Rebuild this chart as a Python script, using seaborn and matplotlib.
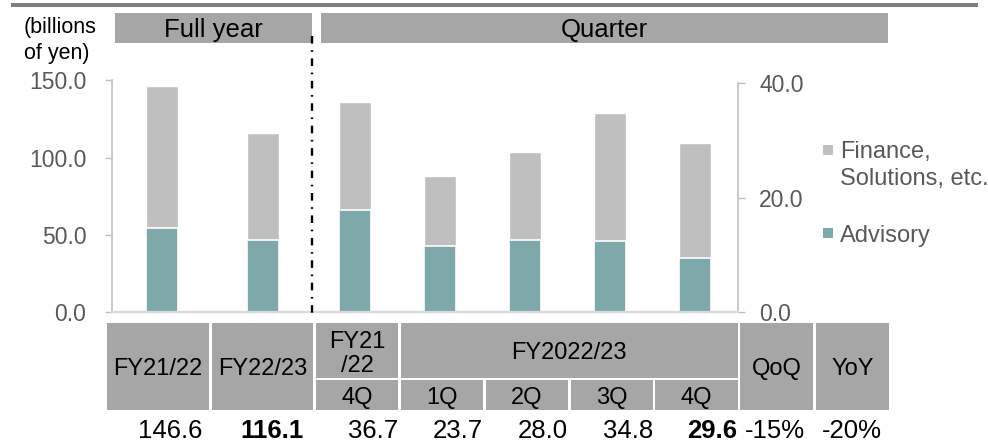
import matplotlib
matplotlib.use("Agg")
import matplotlib.pyplot as plt
from matplotlib.patches import Rectangle
from matplotlib.lines import Line2D
import seaborn as sns
import pandas as pd

# ---- data (billions of yen) ----
year_labels = ["FY21/22", "FY22/23"]
year_total = [146.6, 116.1]
year_advisory = [54.7, 46.6]

quarter_labels = ["FY21/22 4Q", "1Q", "2Q", "3Q", "4Q"]
quarter_total = [36.7, 23.7, 28.0, 34.8, 29.6]
quarter_advisory = [17.9, 11.6, 12.6, 12.5, 9.5]

change_labels = ["QoQ", "YoY"]
change_values = ["-15%", "-20%"]

series_names = ["Finance,\nSolutions, etc.", "Advisory"]

GREY = "#bfbfbf"
TEAL = "#7fa8ab"
HEAD = "#a6a6a6"
TICK = "#595959"

sns.set_style("white")
plt.rcParams["font.family"] = ["Liberation Sans", "DejaVu Sans"]

W, H = 988, 441
fig = plt.figure(figsize=(W / 100, H / 100), dpi=100)


def fx(x):
    return x / W


def fy(y):
    return 1 - y / H


year_df = pd.DataFrame({"period": year_labels, "total": year_total,
                        "advisory": year_advisory})
quarter_df = pd.DataFrame({"period": quarter_labels, "total": quarter_total,
                           "advisory": quarter_advisory})

y0, y1 = 312.3, 80.0
ax_y = fig.add_axes([fx(112), fy(y0), (312.75 - 112) / W, (y0 - y1) / H])
ax_q = fig.add_axes([fx(312.75), fy(y0), (737.7 - 312.75) / W, (y0 - y1) / H])

for ax, df, width in ((ax_y, year_df, 0.32), (ax_q, quarter_df, 0.38)):
    sns.barplot(data=df, x="period", y="total", color=GREY, width=width,
                saturation=1, errorbar=None, edgecolor="white", linewidth=1,
                ax=ax)
    sns.barplot(data=df, x="period", y="advisory", color=TEAL, width=width,
                saturation=1, errorbar=None, edgecolor="white", linewidth=1.2,
                ax=ax)
    ax.set_xlabel("")
    ax.set_ylabel("")
    ax.set_xticks([])
    ax.set_xlim(-0.5, len(df) - 0.5)
    ax.patch.set_alpha(0)
    ax.spines["top"].set_visible(False)
    ax.spines["bottom"].set_color("#d9d9d9")
    ax.spines["bottom"].set_linewidth(1.6)

# left axis: full year
ax_y.set_ylim(0, 150 * (y0 - y1) / (y0 - 80.4))
ax_y.set_yticks([0, 50, 100, 150])
ax_y.set_yticklabels([f"{v:.1f}" for v in [0, 50, 100, 150]])
ax_y.spines["right"].set_visible(False)
ax_y.spines["left"].set_color(GREY)
ax_y.spines["left"].set_linewidth(1.2)
ax_y.spines["left"].set_bounds(0, 150)
ax_y.tick_params(axis="y", left=True, length=5, width=1, color=GREY,
                 labelsize=16.5, labelcolor=TICK, pad=13.5)

# right axis: quarters
ax_q.set_ylim(0, 40 * (y0 - y1) / (y0 - 83.0))
ax_q.set_yticks([0, 20, 40])
ax_q.set_yticklabels([f"{v:.1f}" for v in [0, 20, 40]])
ax_q.spines["left"].set_visible(False)
ax_q.spines["right"].set_color(GREY)
ax_q.spines["right"].set_linewidth(1.2)
ax_q.spines["right"].set_bounds(0, 40)
ax_q.yaxis.tick_right()
ax_q.tick_params(axis="y", right=True, left=False, length=5, width=1,
                 color=GREY, labelsize=16.5, labelcolor=TICK, pad=10.5)

# top rule
fig.add_artist(Line2D([fx(11), fx(978)], [fy(5.3), fy(5.3)], color="#808080",
                      lw=2.9, solid_capstyle="butt"))


def cell(x0, ya, x1, yb, text="", size=17, color=HEAD, linespacing=1.15):
    fig.add_artist(Rectangle((fx(x0), fy(yb)), (x1 - x0) / W, (yb - ya) / H,
                             facecolor=color, edgecolor="none",
                             transform=fig.transFigure))
    if text:
        fig.text(fx((x0 + x1) / 2), fy((ya + yb) / 2), text, ha="center",
                 va="center_baseline", fontsize=size, color="black",
                 linespacing=linespacing)


# section headers
cell(115, 13.3, 312, 42.7, "Full year", size=18.5)
cell(321, 13.3, 888, 42.7, "Quarter", size=18.5)

# separator between full-year and quarterly bars
fig.add_artist(Line2D([fx(311.5), fx(311.5)], [fy(36), fy(314)], color="black",
                      lw=1.7, linestyle=(0, (3.2, 2.8, 0.7, 2.8))))

# unit label
fig.text(fx(24), fy(40.5), "(billions\nof yen)", ha="left", va="center",
         fontsize=15.5, color="black", linespacing=1.25)

# category table
top, mid_a, mid_b, bot = 322.7, 377.7, 380.3, 410.0
cell(106.7, top, 209.0, bot, year_labels[0])
cell(211.7, top, 313.3, bot, year_labels[1])
cell(316.0, top, 398.3, mid_a, "FY21\n/22")
cell(316.0, mid_b, 398.3, bot, quarter_labels[0].split()[-1])
cell(401.0, top, 737.7, mid_a, "FY2022/23")
q_cells = [(401.0, 483.3), (486.0, 567.7), (570.7, 652.7), (655.3, 737.7)]
for (a, b), lab in zip(q_cells, quarter_labels[1:]):
    cell(a, mid_b, b, bot, lab)
cell(740.0, top, 813.3, bot, change_labels[0])
cell(815.7, top, 889.3, bot, change_labels[1])

# value row
value_right = [202, 304, 398, 483, 568, 653, 737.5]
values = year_total + quarter_total
bold = {1, 6}
for i, (xr, v) in enumerate(zip(value_right, values)):
    fig.text(fx(xr), fy(428), f"{v:.1f}", ha="right", va="center_baseline",
             fontsize=18.5, color="black",
             fontweight="bold" if i in bold else "normal")
for xr, s in zip([805, 881.7], change_values):
    fig.text(fx(xr), fy(428), s, ha="right", va="center_baseline",
             fontsize=18.5, color="black")

# legend
for yc, col, lab in ((150, GREY, series_names[0]), (233.3, TEAL, series_names[1])):
    fig.add_artist(Rectangle((fx(823), fy(yc + 5)), 10 / W, 10 / H,
                             facecolor=col, edgecolor="none",
                             transform=fig.transFigure))
    first, *rest = lab.split("\n")
    fig.text(fx(840), fy(yc), first, ha="left", va="center_baseline",
             fontsize=17, color=TICK)
    for k, line in enumerate(rest, 1):
        fig.text(fx(840), fy(yc + 26.7 * k), line, ha="left",
                 va="center_baseline", fontsize=17, color=TICK)

fig.savefig("out.png", dpi=100)
